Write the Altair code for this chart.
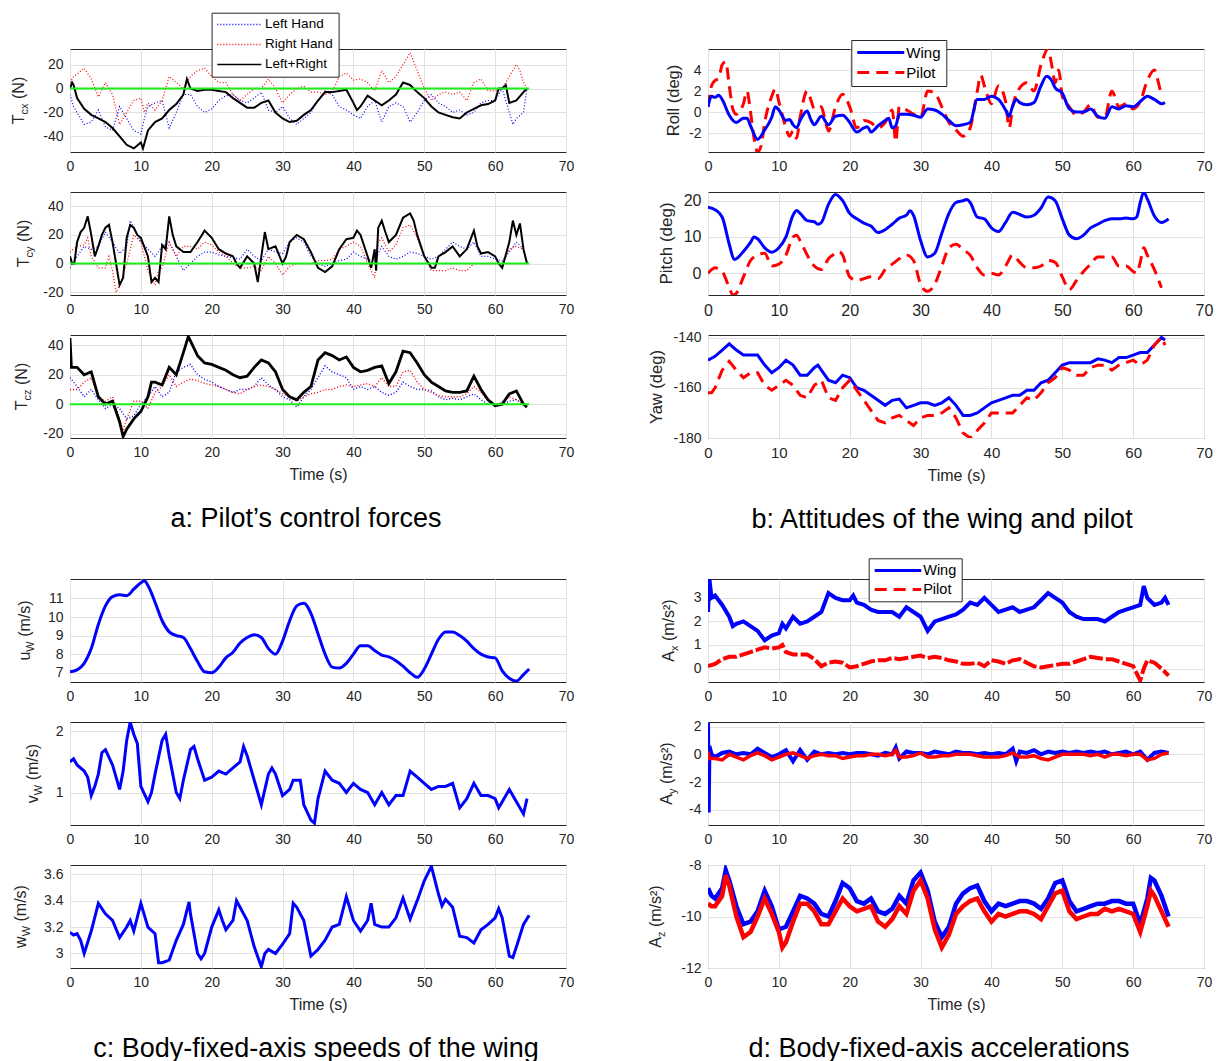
import altair as alt
import pandas as pd

FONT = "Liberation Sans"
AXC = "#262626"
GRID = "#e1e1e1"
BLUE = "#0000ff"
RED = "#ff0000"
BLACK = "#000000"
GREEN = "#1aef1a"

PW, PH = 496, 103
X_TICKS = [0, 10, 20, 30, 40, 50, 60, 70]

# ---------------- data (time s, value) ----------------
A1_LEFT = [(0,-5),(0.5,-15),(1,-20),(2,-30),(3,-28),(4,-18),(5,-32),(6,-35),(7,-15),(8,-25),(9,-35),(10,-38),(10.5,-25),(11,-15),(12,-12),(13,-10),(14,-33),(15,-20),(16,-5),(17,-5),(18,-15),(19,-20),(20,-17),(21,-10),(22,-6),(23,-5),(24,-10),(25,-12),(26,-8),(27,-3),(28,-18),(29,-20),(30,-15),(31,-25),(32,-30),(33,-25),(34,-20),(35,-10),(36,-2),(37,-5),(38,-15),(39,-18),(40,-22),(41,-25),(42,-15),(43,-10),(44,-28),(45,-15),(46,-12),(47,-15),(48,-28),(49,-20),(50,-10),(51,-5),(52,-12),(53,-15),(54,-20),(55,-18),(56,-22),(57,-20),(58,-12),(59,-10),(60,-10),(61,0),(62,-20),(62.5,-30),(63,-25),(64,-20),(64.5,0)]
A1_RIGHT = [(0,5),(0.5,10),(1,12),(2,17),(3,8),(4,-7),(5,5),(6,-5),(7,-30),(8,-20),(9,-10),(10,-8),(10.5,-20),(11,-12),(12,-18),(13,-10),(14,10),(15,5),(16,0),(17,10),(18,15),(19,17),(20,10),(21,5),(22,5),(23,-5),(24,-10),(25,-5),(26,0),(27,0),(28,8),(29,0),(30,-12),(31,-5),(32,0),(33,2),(34,-3),(35,-3),(36,-5),(37,-3),(38,10),(39,13),(40,7),(41,8),(42,5),(43,-2),(44,15),(45,5),(46,10),(47,20),(48,30),(49,15),(50,0),(51,-10),(52,-5),(53,-3),(54,-5),(55,-3),(56,-10),(57,5),(58,8),(59,-2),(60,-2),(61,0),(62,10),(63,20),(63.5,15),(64,5),(64.5,0)]
A1_SUM = [(0,0),(0.3,5),(0.5,3),(1,-8),(2,-17),(3,-22),(4,-25),(5,-28),(6,-33),(7,-40),(8,-47),(9,-50),(10,-45),(10.3,-50),(11,-35),(12,-28),(13,-25),(14,-18),(15,-13),(16,-5),(16.5,8),(17,0),(18,-2),(19,-1),(20,-1),(21,-2),(22,-3),(23,-8),(24,-12),(25,-16),(26,-16),(27,-12),(28,-10),(29,-20),(30,-25),(31,-28),(32,-27),(33,-22),(34,-18),(35,-10),(36,-3),(37,-3),(38,-2),(39,-1),(40,-12),(40.5,-18),(41,-15),(42,-6),(43,-10),(44,-14),(45,-10),(46,-5),(47,5),(48,3),(49,-3),(50,-8),(51,-15),(52,-20),(53,-22),(54,-24),(55,-25),(56,-20),(57,-17),(58,-14),(59,-13),(60,-10),(60.5,0),(61,0),(61.5,3),(62,-12),(63,-10),(64,-3),(64.5,0)]

A2_LEFT = [(0,-3),(1,5),(2,12),(3,10),(4,12),(5,22),(6,15),(7,7),(8,12),(8.5,30),(9,25),(10,15),(11,10),(12,5),(13,12),(14,15),(15,5),(16,-5),(17,0),(18,5),(19,8),(20,8),(21,6),(22,5),(23,4),(24,3),(25,10),(26,5),(27,2),(28,10),(29,8),(30,7),(31,15),(32,18),(33,15),(34,5),(35,0),(36,-2),(37,0),(38,2),(39,3),(40,8),(41,5),(42,3),(43,2),(44,12),(45,5),(46,3),(47,5),(48,8),(49,7),(50,5),(51,3),(52,5),(53,10),(54,15),(55,12),(56,10),(57,15),(58,5),(59,5),(60,3),(61,2),(62,8),(63,15),(64,10),(64.5,0)]
A2_RIGHT = [(0,8),(1,12),(2,13),(2.5,18),(3,5),(4,-3),(5,-3),(5.5,5),(6,-5),(6.5,-20),(7,-15),(8,0),(9,20),(10,15),(11,-5),(12,-15),(12.5,-5),(13,-3),(14,15),(15,5),(16,12),(17,12),(18,10),(19,15),(20,13),(21,8),(22,5),(23,0),(24,-3),(25,-3),(26,-2),(27,-5),(28,5),(29,0),(30,-8),(31,-2),(32,0),(33,0),(34,0),(35,2),(36,2),(37,3),(38,10),(39,12),(40,15),(41,12),(42,0),(43,-10),(43.5,15),(44,18),(45,8),(46,13),(47,25),(48,27),(49,18),(50,5),(51,-5),(52,-5),(53,-5),(54,-3),(55,-5),(56,-5),(57,0),(58,0),(59,0),(60,0),(61,0),(62,10),(63,12),(64,10),(64.5,0)]
A2_SUM = [(0,5),(0.3,0),(0.6,0),(1,15),(1.5,22),(2,25),(2.5,33),(3,20),(3.5,5),(4,12),(4.5,20),(5,25),(5.5,27),(6,15),(6.5,0),(7,-15),(7.5,-10),(8,18),(8.5,27),(9,25),(9.5,20),(10,18),(11,5),(11.5,-13),(12,-10),(12.5,-13),(13,13),(13.5,10),(14,33),(14.5,20),(15,12),(16,8),(17,8),(18,15),(19,23),(20,18),(21,10),(22,7),(23,5),(23.5,0),(24,-3),(25,5),(26,0),(26.5,-13),(27,5),(27.5,22),(28,10),(29,12),(30,0),(30.5,5),(31,15),(32,20),(33,17),(34,8),(35,-3),(36,-6),(37,-2),(38,10),(39,17),(40,18),(40.5,23),(41,20),(42,5),(42.5,-3),(43,10),(43.2,-5),(43.5,25),(44,30),(44.5,22),(45,15),(46,20),(47,32),(48,35),(48.5,30),(49,20),(50,5),(51,-3),(51.5,-3),(52,5),(53,8),(54,12),(55,5),(56,10),(57,23),(57.5,12),(58,7),(59,8),(60,5),(60.5,0),(61,-3),(62,15),(62.5,30),(63,20),(63.5,28),(64,10),(64.5,0)]

A3_LEFT = [(0,18),(1,12),(2,5),(3,10),(4,3),(5,-3),(6,0),(7,-3),(8,-10),(9,-8),(10,0),(11,5),(12,12),(13,5),(14,8),(15,22),(16,25),(17,27),(18,20),(19,17),(20,15),(21,12),(22,10),(23,8),(24,10),(25,10),(26,12),(27,18),(28,13),(29,10),(30,5),(31,3),(32,-2),(33,5),(34,10),(35,18),(36,26),(37,22),(38,20),(39,18),(40,10),(41,12),(42,10),(43,12),(44,8),(45,6),(46,8),(47,15),(48,12),(49,10),(50,10),(51,9),(52,5),(53,3),(54,4),(55,3),(56,5),(57,7),(58,3),(59,0),(60,0),(61,0),(62,2),(63,3),(64,0),(64.5,0)]
A3_RIGHT = [(0,10),(1,10),(2,15),(3,18),(4,5),(5,2),(6,5),(7,-10),(7.5,-18),(8,-10),(9,2),(10,2),(11,-3),(12,8),(13,12),(14,20),(15,12),(16,15),(17,17),(18,16),(19,14),(20,13),(21,12),(22,10),(23,8),(24,7),(25,10),(26,12),(27,13),(28,12),(29,10),(30,7),(31,5),(32,2),(33,5),(34,7),(35,8),(36,10),(37,10),(38,12),(39,13),(40,12),(41,13),(42,14),(43,12),(44,18),(45,12),(46,12),(47,22),(48,23),(49,15),(50,10),(51,8),(52,6),(53,5),(54,5),(55,5),(56,7),(57,12),(58,8),(59,2),(60,0),(61,1),(62,5),(63,3),(64,0),(64.5,-1)]
A3_SUM = [(0,45),(0.2,25),(1,25),(2,20),(3,22),(4,5),(5,0),(6,2),(7,-12),(7.5,-22),(8,-17),(9,-10),(10,-5),(11,5),(11.5,15),(12,15),(13,13),(14,25),(15,20),(16,35),(16.7,46),(17,43),(18,33),(19,28),(20,27),(21,25),(22,23),(23,20),(24,18),(25,19),(26,25),(27,30),(28,28),(29,22),(30,10),(31,5),(32,3),(33,8),(34,12),(35,30),(36,35),(37,33),(38,30),(39,32),(40,25),(41,22),(42,23),(43,25),(44,26),(45,14),(46,22),(47,36),(48,35),(49,28),(50,20),(51,15),(52,12),(53,9),(54,8),(55,8),(56,9),(57,19),(58,10),(59,3),(60,-1),(61,0),(62,7),(63,9),(64,0),(64.5,-2)]

ZERO_LINE = [(0, 0), (64.8, 0)]

B1_WING = [(0,0.5),(0.5,1.5),(1,1.4),(1.5,1.6),(2,1.2),(3,-0.3),(4,-1.0),(5,-0.6),(5.5,-0.6),(6,-1.3),(7,-2.6),(8,-1.7),(9,-0.5),(9.5,0.5),(10,0.2),(11,-0.8),(11.5,-0.7),(12,-1.2),(12.5,-1.5),(13,-0.8),(14,0.1),(14.5,-0.7),(15,-1.2),(16,-0.4),(17,-1.2),(18,-0.4),(19,-0.3),(20,-1.0),(21,-1.9),(22,-1.5),(22.5,-1.4),(23,-1.9),(24,-1.3),(25,-0.8),(25.5,-0.6),(26,-1.5),(26.5,-1.3),(27,-0.2),(28,-0.2),(29,-0.3),(30,-0.5),(31,0.3),(32,0.2),(33,-0.2),(34,-0.8),(35,-1.3),(36,-1.2),(37,-1.0),(38,1.2),(39,1.2),(40,1.5),(41,1.2),(42,0.2),(42.5,-0.4),(43,0.6),(43.5,1.2),(44,0.9),(45,0.7),(46,0.9),(47,2.5),(47.8,3.4),(48.5,3.0),(49,2.3),(50,1.8),(51,0.3),(52,0.0),(53,0.0),(54,0.3),(55,-0.4),(56,-0.6),(57,0.5),(58,0.3),(59,0.6),(60,0.5),(61,1.0),(62,1.5),(63,1.2),(64,0.8),(64.5,0.9)]
B1_PILOT = [(0,0.5),(0.5,2.5),(1,3.0),(1.5,3.2),(2,4.5),(2.5,4.8),(3,2.5),(3.5,0.3),(4,-0.2),(5,0.8),(5.5,2.0),(6,0.0),(6.5,-2.5),(7,-3.8),(7.5,-3.2),(8,-1.0),(9,1.5),(9.5,2.2),(10,1.0),(11,-1.5),(11.5,-2.3),(12,-1.8),(12.5,-2.5),(13,-0.5),(14,2.0),(14.5,1.2),(15,0.3),(16,0.5),(16.5,-0.7),(17,-1.8),(18,0.5),(19,1.7),(20,0.5),(21,-1.5),(22,-0.8),(23,-1.0),(24,-1.5),(25,-1.0),(26,0.2),(26.5,-2.8),(27,0.5),(28,0.2),(29,-0.2),(30,-0.5),(31,2.0),(32,1.8),(33,0.5),(34,-1.0),(35,-1.7),(36,-2.3),(37,-1.5),(38,2.0),(38.5,3.5),(39,2.5),(40,0.8),(41,2.5),(42,1.0),(42.5,-1.5),(43,0.5),(44,2.3),(45,2.8),(46,2.0),(47,4.5),(48,6.0),(48.5,4.5),(49,2.8),(49.5,4.0),(50,1.5),(51,0.5),(52,-0.3),(53,0.0),(54,0.7),(55,-0.5),(56,-0.5),(57,2.0),(58,0.5),(59,0.8),(60,0.3),(61,1.0),(62,3.0),(63,4.0),(63.5,3.0),(64,1.5)]

B2_WING = [(0,18.2),(1,17.5),(2,15.5),(3,8),(3.7,3.8),(4,4),(5,6),(6,8.5),(6.5,10),(7,9.5),(8,7),(9,5.8),(10,7),(11,10),(12,16),(12.5,17.3),(13,16.5),(14,14.5),(15,14.2),(15.5,13.5),(16,14),(17,19),(18,21.7),(19,20),(20,16.5),(21,15),(22,13.8),(23,13),(24,11.2),(25,12),(26,13.5),(27,15.2),(28,16),(28.5,17.2),(29,16),(30,9),(31,4.5),(32,5.5),(33,11),(34,16.5),(35,19.5),(36,20),(36.5,20.3),(37,19.5),(38,15.5),(39,15),(40,12.5),(41,11.5),(42,14),(43,16.8),(44,16.2),(45,15.5),(46,16),(47,18),(48,21),(49,20),(50,15),(51,10.5),(52,9.5),(53,10.5),(54,12.5),(55,13.5),(56,14.5),(57,15),(58,15),(59,15.2),(60,15),(60.5,15.5),(61,19.5),(61.5,22.3),(62,20.5),(63,15.8),(64,14),(65,15)]
B2_PILOT = [(0,0),(0.5,1),(1,1.5),(2,0.5),(3,-4),(3.5,-6),(4,-5.5),(5,-1),(6,3.5),(7,5),(8,5.5),(9,2),(10,2.5),(11,5),(12,10),(12.5,10.5),(13,9),(14,5),(15,2),(16,1),(17,4),(18,5.5),(18.5,6),(19,5),(20,-1),(21,-2),(22,-1.5),(23,-1),(24,-1.5),(25,1),(26,2.5),(27,4),(28,5),(29,3.5),(30,-3),(31,-5),(32,-3),(33,2),(34,7),(35,8),(36,6.5),(37,5),(38,1.5),(39,-0.5),(40,0),(41,-0.5),(42,2),(43,5),(44,3),(45,1.5),(46,1.5),(47,2),(48,3.5),(49,3),(50,-1),(51,-4.5),(52,-2),(53,0.5),(54,2.5),(55,4.5),(56,4.5),(57,4.5),(58,2),(59,2),(60,0.5),(60.5,0),(61,3),(61.5,7),(62,5),(63,1),(64,-4)]

B3_WING = [(0,-149),(1,-147.5),(2,-145),(3,-142.5),(4,-145),(5,-147),(6,-147),(7,-147),(8,-151),(9,-154),(10,-152),(11,-149),(12,-151),(13,-155),(14,-155),(15,-152),(15.5,-151),(16,-153),(17,-157),(18,-158),(19,-155),(20,-156),(21,-160),(22,-161),(23,-163),(24,-165),(25,-167),(26,-165),(27,-164.5),(28,-168),(29,-167),(30,-166),(31,-166),(32,-167),(33,-166),(34,-164),(35,-167),(36,-171),(37,-171),(38,-170),(39,-168),(40,-166),(41,-165),(42,-164),(43,-163),(44,-163),(45,-161),(46,-161),(47,-158),(48,-157),(49,-154),(50,-151),(51,-150),(52,-150),(53,-150),(54,-150),(55,-148.5),(56,-149),(57,-150),(58,-148),(59,-148),(60,-147),(61,-146),(62,-146),(63,-143),(64,-140),(64.5,-141)]
B3_PILOT = [(0,-162),(0.5,-162),(1,-160),(2,-153),(3,-149.5),(4,-153),(5,-156),(6,-154),(7,-154),(8,-159),(9,-161),(10,-159),(11,-157),(12,-159),(13,-163),(14,-164),(15,-159),(16,-157),(17,-164),(18,-165),(19,-160),(20,-157),(21,-161),(22,-165),(23,-169),(24,-173),(25,-174),(26,-172),(27,-171),(28,-173),(29,-175),(30,-172),(31,-171),(32,-171),(33,-170),(34,-168),(35,-172),(36,-178),(37,-180),(38,-177),(39,-174),(40,-170),(41,-170),(42,-170),(43,-170),(44,-167),(45,-164),(46,-165),(47,-162),(48,-158),(49,-156),(50,-152),(51,-153),(52,-155),(53,-155),(54,-152),(55,-151),(56,-151),(57,-153),(58,-151),(59,-150),(60,-149),(61,-151),(62,-149),(63,-143),(64,-140),(64.5,-143)]

C1_U = [(0,7.05),(1,7.15),(2,7.5),(3,8.3),(4,9.6),(5,10.6),(6,11.1),(7,11.2),(8,11.15),(9,11.5),(10,11.85),(10.5,11.95),(11,11.7),(12,10.8),(13,9.8),(14,9.2),(15,9.0),(16,8.9),(17,8.3),(18,7.6),(19,7.05),(20,7.0),(21,7.3),(22,7.8),(23,8.1),(24,8.6),(25,8.9),(26,9.05),(27,8.9),(28,8.3),(29,8.0),(30,8.7),(31,9.8),(32,10.6),(33,10.75),(34,10.2),(35,9.1),(36,8.0),(37,7.3),(38,7.25),(39,7.5),(40,8.0),(41,8.45),(42,8.45),(43,8.2),(44,7.95),(45,7.85),(46,7.65),(47,7.35),(48,7.0),(49,6.75),(50,7.2),(51,8.0),(52,8.8),(53,9.2),(54,9.2),(55,9.0),(56,8.7),(57,8.3),(58,8.0),(59,7.85),(60,7.8),(61,7.1),(62,6.7),(63,6.55),(64,6.9),(64.8,7.2)]
C2_V = [(0,1.5),(0.5,1.55),(1,1.45),(2,1.35),(2.5,1.25),(3,0.95),(3.5,1.1),(4,1.3),(4.5,1.65),(5,1.7),(6,1.45),(7,1.05),(7.5,1.35),(8,1.85),(8.5,2.15),(9,1.95),(9.5,1.8),(10,1.1),(11,0.85),(11.5,1.0),(12,1.3),(13,1.85),(13.5,1.95),(14,1.6),(15,1.0),(15.5,0.9),(16,1.2),(17,1.7),(17.5,1.75),(18,1.55),(19,1.2),(20,1.25),(21,1.35),(22,1.3),(23,1.4),(24,1.5),(24.5,1.75),(25,1.6),(26,1.2),(27,0.8),(28,1.3),(28.5,1.4),(29,1.3),(30,0.95),(31,1.05),(31.5,1.2),(32.5,1.2),(33,0.8),(34,0.55),(34.5,0.5),(35,0.9),(36,1.35),(37,1.2),(38,1.15),(39,1.0),(40,1.15),(41,1.05),(42,1.0),(43,0.8),(44,1.0),(45,0.8),(46,0.95),(47,0.95),(48,1.35),(49,1.25),(50,1.15),(51,1.05),(52,1.1),(53,1.1),(54,1.15),(55,0.75),(56,0.9),(57,1.15),(58,0.95),(59,0.95),(60,0.9),(60.5,0.75),(61,0.85),(62,1.05),(63,0.85),(64,0.65),(64.5,0.9)]
C3_W = [(0,3.16),(0.5,3.14),(1,3.15),(1.5,3.1),(2,3.0),(3,3.17),(4,3.38),(5,3.3),(6,3.25),(7,3.12),(8,3.2),(8.5,3.25),(9,3.17),(10,3.38),(11,3.2),(12,3.15),(12.5,2.93),(13,2.93),(14,2.95),(15,3.1),(16,3.22),(16.8,3.39),(17,3.3),(18,3.0),(18.5,2.96),(19,3.0),(20,3.2),(21,3.33),(21.5,3.25),(22,3.18),(23,3.25),(23.5,3.4),(24,3.35),(25,3.25),(26,3.05),(27,2.9),(27.5,3.0),(28,3.03),(29,3.0),(30,3.07),(31,3.15),(31.5,3.38),(32,3.35),(33,3.25),(34,2.98),(35,3.03),(36,3.1),(37,3.2),(38,3.22),(39,3.43),(40,3.25),(41,3.17),(42,3.25),(42.5,3.38),(43,3.22),(44,3.2),(45,3.2),(46,3.27),(47,3.42),(48,3.26),(49,3.4),(50,3.55),(51,3.66),(52,3.45),(52.5,3.36),(53,3.41),(54,3.35),(55,3.13),(56,3.12),(57,3.08),(58,3.18),(59,3.22),(60,3.27),(60.5,3.34),(61,3.27),(62,2.98),(62.5,2.97),(63,3.05),(64,3.22),(64.8,3.29)]

D1_WING = [(0,2.4),(0.2,3.8),(0.5,3.0),(1,3.1),(2,2.7),(3,2.2),(3.5,1.8),(4,1.9),(5,2.0),(6,1.8),(7,1.6),(8,1.2),(9,1.4),(10,1.5),(10.5,1.9),(11,1.7),(12,2.2),(13,1.9),(14,2.0),(15,2.2),(16,2.4),(17,3.2),(18,3.0),(19,2.9),(20,2.9),(20.5,3.1),(21,2.8),(22,2.7),(23,2.5),(24,2.4),(25,2.4),(26,2.4),(27,2.2),(28,2.6),(29,2.4),(30,2.2),(31,1.6),(32,2.0),(33,2.1),(34,2.2),(35,2.3),(36,2.5),(37,2.8),(38,2.7),(39,3.0),(40,2.7),(41,2.4),(42,2.5),(43,2.6),(44,2.4),(45,2.5),(46,2.6),(47,2.9),(48,3.2),(49,3.0),(50,2.8),(51,2.4),(52,2.2),(53,2.1),(54,2.1),(55,2.1),(56,2.0),(57,2.2),(58,2.4),(59,2.5),(60,2.6),(61,2.7),(61.5,3.5),(62,3.0),(63,2.7),(64,2.8),(64.5,3.0),(65,2.7)]
D1_PILOT = [(0,0.1),(1,0.2),(2,0.4),(3,0.5),(4,0.5),(5,0.6),(6,0.7),(7,0.8),(8,0.9),(9,0.85),(10,0.9),(10.5,1.0),(11,0.7),(12,0.6),(13,0.6),(14,0.6),(15,0.4),(16,0.1),(17,0.25),(18,0.3),(19,0.25),(20,0.05),(21,0.1),(22,0.2),(23,0.3),(24,0.35),(25,0.35),(26,0.45),(27,0.4),(28,0.45),(29,0.5),(30,0.55),(31,0.45),(32,0.5),(33,0.45),(34,0.35),(35,0.3),(36,0.2),(37,0.2),(38,0.25),(39,0.1),(40,0.35),(41,0.3),(42,0.2),(43,0.35),(44,0.4),(45,0.25),(46,0.1),(47,0.05),(48,0.1),(49,0.15),(50,0.2),(51,0.2),(52,0.3),(53,0.4),(54,0.5),(55,0.45),(56,0.4),(57,0.4),(58,0.3),(59,0.2),(60,0.1),(60.5,-0.2),(61,-0.5),(61.5,0.0),(62,0.35),(63,0.25),(64,0.0),(65,-0.3)]

D2_WING = [(0,2.3),(0.1,-4.2),(0.2,0.6),(0.5,0.0),(1,-0.2),(2,0.1),(3,0.2),(4,0.0),(5,0.1),(6,0.0),(7,0.4),(8,0.1),(9,-0.2),(10,0.0),(11,0.3),(12,-0.5),(13,0.3),(14,-0.4),(15,0.2),(16,0.0),(17,0.1),(18,0.0),(19,0.1),(20,0.0),(21,0.1),(22,0.1),(23,0.0),(24,-0.1),(25,0.1),(26,0.0),(26.5,0.5),(27,-0.3),(28,0.2),(29,0.1),(30,0.1),(31,0.0),(32,0.2),(33,0.1),(34,0.0),(35,0.2),(36,0.1),(37,0.1),(38,0.0),(39,0.1),(40,0.0),(41,0.1),(42,0.0),(43,0.4),(43.5,-0.5),(44,0.2),(45,0.1),(46,0.3),(47,0.0),(48,0.2),(49,0.1),(50,0.2),(51,0.1),(52,0.2),(53,0.1),(54,0.2),(55,0.1),(56,0.2),(57,0.0),(58,0.1),(59,0.2),(60,0.0),(61,0.2),(62,-0.4),(63,0.1),(64,0.2),(65,0.1)]
D2_PILOT = [(0,0.2),(0.2,-0.3),(1,-0.3),(2,-0.4),(3,0.0),(4,-0.2),(5,-0.4),(6,-0.1),(7,0.1),(8,-0.1),(9,-0.4),(10,-0.2),(11,0.0),(12,0.1),(13,-0.1),(14,-0.3),(15,-0.1),(16,0.0),(17,-0.1),(18,-0.1),(19,-0.3),(20,-0.2),(21,-0.1),(22,-0.1),(23,0.0),(24,0.0),(25,-0.1),(26,0.0),(26.5,0.3),(27,-0.2),(28,-0.2),(29,-0.1),(30,0.1),(31,-0.2),(32,-0.2),(33,-0.1),(34,-0.1),(35,0.0),(36,0.0),(37,0.0),(38,-0.1),(39,-0.2),(40,-0.2),(41,-0.2),(42,-0.1),(43,0.1),(44,-0.2),(45,-0.2),(46,-0.1),(47,-0.3),(48,-0.4),(49,-0.2),(50,0.0),(51,0.0),(52,0.0),(53,0.0),(54,-0.1),(55,0.0),(56,-0.2),(57,0.0),(58,0.0),(59,-0.1),(60,0.0),(61,0.0),(62,-0.4),(63,-0.3),(64,0.0),(65,0.1)]

D3_WING = [(0,-8.9),(0.5,-9.2),(1,-9.3),(2,-8.9),(2.5,-8.2),(3,-8.6),(4,-9.6),(5,-10.3),(6,-10.2),(7,-9.8),(8,-9.0),(9,-9.6),(10,-10.5),(11,-10.4),(12,-9.8),(13,-9.2),(14,-9.3),(15,-9.5),(16,-9.9),(17,-10.0),(18,-9.4),(19,-8.7),(20,-8.9),(21,-9.4),(22,-9.5),(23,-9.3),(24,-9.8),(25,-9.9),(26,-9.7),(27,-9.2),(28,-9.5),(29,-8.6),(30,-8.3),(31,-9.0),(32,-10.2),(33,-10.8),(34,-10.4),(35,-9.5),(36,-9.1),(37,-8.9),(38,-8.8),(39,-9.4),(40,-9.8),(41,-9.5),(42,-9.6),(43,-9.5),(44,-9.4),(45,-9.4),(46,-9.5),(47,-9.7),(48,-9.3),(49,-8.7),(50,-8.6),(51,-9.4),(52,-9.8),(53,-9.7),(54,-9.6),(55,-9.5),(56,-9.5),(57,-9.4),(58,-9.4),(59,-9.5),(60,-9.5),(61,-10.3),(62,-9.3),(62.5,-8.5),(63,-8.6),(64,-9.2),(65,-10.0)]
D3_PILOT = [(0,-9.5),(0.5,-9.6),(1,-9.6),(2,-9.2),(2.5,-8.4),(3,-8.8),(4,-10.0),(5,-10.8),(6,-10.6),(7,-10.0),(8,-9.3),(9,-9.9),(10,-10.6),(10.5,-11.2),(11,-11.0),(12,-10.2),(13,-9.5),(14,-9.5),(15,-9.8),(16,-10.3),(17,-10.3),(18,-9.8),(19,-9.3),(20,-9.6),(21,-9.8),(22,-9.7),(23,-9.6),(24,-10.2),(25,-10.4),(26,-10.1),(27,-9.6),(28,-9.9),(29,-9.0),(30,-8.6),(31,-9.3),(32,-10.5),(33,-11.2),(34,-10.7),(35,-9.9),(36,-9.6),(37,-9.4),(38,-9.3),(39,-9.8),(40,-10.2),(41,-9.9),(42,-10.0),(43,-9.9),(44,-9.8),(45,-9.8),(46,-9.9),(47,-10.1),(48,-9.6),(49,-9.1),(50,-9.0),(51,-9.8),(52,-10.1),(53,-10.0),(54,-9.9),(55,-9.9),(56,-9.7),(57,-9.8),(58,-9.7),(59,-9.8),(60,-9.9),(61,-10.6),(62,-9.6),(62.5,-9.0),(63,-9.2),(64,-9.8),(65,-10.4)]

A_NAMES = ["Left Hand", "Right Hand", "Left+Right"]
WP_NAMES = ["Wing", "Pilot"]
CAPTIONS = ["a: Pilot\u2019s control forces", "b: Attitudes of the wing and pilot",
            "c: Body-fixed-axis speeds of the wing", "d: Body-fixed-axis accelerations"]

# ---------------- helpers ----------------
ONE = pd.DataFrame({"k": [0]})
CHAR_W = {'T': .611, 'c': .5, 'x': .5, 'y': .5, 'z': .5, ' ': .278, '(': .333, ')': .333,
          'N': .722, 'u': .556, 'W': .944, 'm': .833, '/': .278, 's': .5, '\u00b2': .333,
          'A': .667, 'v': .5, 'w': .722, 'R': .722, 'o': .556, 'l': .222, 'd': .556,
          'e': .556, 'g': .556, 'P': .667, 'i': .222, 't': .278, 'h': .556, 'a': .556, 'Y': .667}


def twidth(s, size):
    return sum(CHAR_W.get(ch, 0.55) for ch in s) * size


def frame(pairs):
    return pd.DataFrame(pairs, columns=["t", "v"])


def encodings(ydom, yvals, lab, xlab, xtitle):
    x = alt.X("t:Q", scale=alt.Scale(domain=[0, 70], nice=False, zero=False),
              axis=alt.Axis(values=X_TICKS, labelExpr="'' + datum.value", labelFont=FONT,
                            labelFontSize=xlab, labelColor=AXC, labelPadding=7, ticks=False,
                            domain=False, grid=True, gridColor=GRID, labelFlush=False,
                            title=xtitle, titleFont=FONT, titleFontSize=16,
                            titleFontWeight="normal", titleColor=AXC, titlePadding=7))
    y = alt.Y("v:Q", scale=alt.Scale(domain=ydom, nice=False, zero=False),
              axis=alt.Axis(values=yvals, labelExpr="'' + datum.value", labelFont=FONT,
                            labelFontSize=lab, labelColor=AXC, labelPadding=7, ticks=False,
                            domain=False, grid=True, gridColor=GRID, labelFlush=False,
                            title=None))
    return x, y


def ytitle_layers(segs, xc):
    total = sum(twidth(s, sz) for s, sz, _ in segs)
    ypos = PH / 2 + total / 2
    base = segs[0][1]
    out = []
    for s, sz, shift in segs:
        body = s.lstrip(" ")
        ypos -= twidth(s[:len(s) - len(body)], sz)
        out.append(alt.Chart(ONE).mark_text(text=body, angle=270, align="left",
                                            baseline="alphabetic", font=FONT, fontSize=sz,
                                            color=AXC)
                   .encode(x=alt.value(xc + 0.255 * base + shift), y=alt.value(ypos)))
        ypos -= twidth(body, sz)
    return out


def legend_layer(x, y, ydom, names, colors, dashes, fs, half, so, lo, lx, ly, rp, sw):
    d = pd.DataFrame({"t": [0.0] * len(names), "v": [ydom[0]] * len(names), "s": names})
    leg = alt.Legend(title=None, orient="none", legendX=lx, legendY=ly, direction="vertical",
                     fillColor="white", strokeColor=AXC, padding=5, cornerRadius=0,
                     labelFont=FONT, labelFontSize=fs, labelColor="black",
                     labelOffset=lo, symbolOffset=so, symbolSize=100,
                     symbolType="M-%g,0H%g" % (half, half), symbolStrokeWidth=sw,
                     rowPadding=rp)
    return alt.Chart(d).mark_line(strokeWidth=sw).encode(
        x=x, y=y,
        color=alt.Color("s:N", scale=alt.Scale(domain=names, range=colors), legend=leg),
        strokeDash=alt.StrokeDash("s:N", scale=alt.Scale(domain=names, range=dashes), legend=leg),
    )


def panel(series, ydom, yvals, title_segs, title_x, lab=14, xlab=14, xtitle=None,
          legend=None, caption=None, cap_dx=0):
    x, y = encodings(ydom, yvals, lab, xlab, xtitle)
    layers = []
    if legend is not None:
        layers.append(legend_layer(x, y, ydom, **legend))
    for pairs, color, width, dash, interp in series:
        mk = dict(color=color, strokeWidth=width, clip=True, interpolate=interp)
        if dash:
            mk["strokeDash"] = dash
        layers.append(alt.Chart(frame(pairs)).mark_line(**mk).encode(x=x, y=y))
    layers += ytitle_layers(title_segs, title_x)
    ch = alt.layer(*layers).properties(width=PW, height=PH)
    if caption:
        ch = ch.properties(title=alt.TitleParams(
            text=caption, orient="bottom", anchor="middle", frame="group", offset=45,
            baseline="alphabetic", fontSize=27, font=FONT, fontWeight="normal",
            color="black", dx=cap_dx))
    return ch


def spacer(h):
    return alt.Chart(ONE).mark_point(opacity=0).encode(
        x=alt.X("k:Q", axis=None), y=alt.Y("k:Q", axis=None)
    ).properties(width=PW, height=h, view=alt.ViewBackground(stroke="transparent"))


DOT = [1, 2]
DASH = [12, 7]

# ---------------- group a ----------------
leg_a = dict(names=A_NAMES, colors=[BLUE, RED, BLACK], dashes=[DOT, DOT, [1, 0]], fs=13.5,
             half=4.4, so=16, lo=19, lx=141.6, ly=-36.3, rp=5, sw=1.5)
a1 = panel([(A1_LEFT, BLUE, 1.2, DOT, "linear"), (A1_RIGHT, RED, 1.2, DOT, "linear"),
            (A1_SUM, BLACK, 2, None, "linear"), (ZERO_LINE, GREEN, 2, None, "linear")],
           [-53, 33], [-40, -20, 0, 20],
           [("T", 16, 0), ("cx", 11, 4), (" (N)", 16, 0)], -50, legend=leg_a)
a2 = panel([(A2_LEFT, BLUE, 1.2, DOT, "linear"), (A2_RIGHT, RED, 1.2, DOT, "linear"),
            (A2_SUM, BLACK, 2, None, "linear"), (ZERO_LINE, GREEN, 2, None, "linear")],
           [-22, 50], [-20, 0, 20, 40],
           [("T", 16, 0), ("cy", 11, 4), (" (N)", 16, 0)], -45)
a3 = panel([(A3_LEFT, BLUE, 1.4, DOT, "linear"), (A3_RIGHT, RED, 1.4, DOT, "linear"),
            (A3_SUM, BLACK, 2.8, None, "linear"), (ZERO_LINE, GREEN, 2, None, "linear")],
           [-23, 47], [-20, 0, 20, 40],
           [("T", 16, 0), ("cz", 11, 4), (" (N)", 16, 0)], -47,
           xtitle="Time (s)", caption=CAPTIONS[0], cap_dx=-12)

# ---------------- group b ----------------
leg_b = dict(names=WP_NAMES, colors=[BLUE, RED], dashes=[[1, 0], DASH], fs=15,
             half=4.7, so=17, lo=18, lx=143.3, ly=-9, rp=4, sw=3)
b1 = panel([(B1_PILOT, RED, 3, DASH, "monotone"), (B1_WING, BLUE, 3, None, "monotone")],
           [-3.8, 6], [-2, 0, 2, 4], [("Roll (deg)", 16.5, 0)], -33, xlab=14.5, legend=leg_b)
b2 = panel([(B2_WING, BLUE, 3, None, "monotone"), (B2_PILOT, RED, 3, DASH, "monotone")],
           [-6, 22.4], [0, 10, 20], [("Pitch (deg)", 17, 0)], -40, lab=16, xlab=16)
b3 = panel([(B3_WING, BLUE, 3, None, "linear"), (B3_PILOT, RED, 3, DASH, "linear")],
           [-180, -139], [-180, -160, -140], [("Yaw (deg)", 16.5, 0)], -50, xlab=15,
           xtitle="Time (s)", caption=CAPTIONS[1], cap_dx=-14)

# ---------------- group c ----------------
c1 = panel([(C1_U, BLUE, 3, None, "monotone")], [6.5, 12.05], [7, 8, 9, 10, 11],
           [("u", 16, 0), ("W", 11, 4), (" (m/s)", 16, 0)], -44)
c2 = panel([(C2_V, BLUE, 3, None, "linear")], [0.47, 2.15], [1, 2],
           [("v", 16, 0), ("W", 11, 4), (" (m/s)", 16, 0)], -36)
c3 = panel([(C3_W, BLUE, 3, None, "linear")], [2.89, 3.67], [3, 3.2, 3.4, 3.6],
           [("w", 16, 0), ("W", 11, 4), (" (m/s)", 16, 0)], -48,
           xtitle="Time (s)", caption=CAPTIONS[2], cap_dx=-2)

# ---------------- group d ----------------
leg_d = dict(names=WP_NAMES, colors=[BLUE, RED], dashes=[[1, 0], DASH], fs=14.5,
             half=4.65, so=17, lo=18, lx=160.7, ly=-20.7, rp=4, sw=3)
d1 = panel([(D1_WING, BLUE, 4, None, "linear"), (D1_PILOT, RED, 4, [14, 3], "linear")],
           [-0.57, 3.8], [0, 1, 2, 3],
           [("A", 16, 0), ("x", 11, 4), (" (m/s\u00b2)", 16, 0)], -38, legend=leg_d)
d2 = panel([(D2_WING, BLUE, 4, None, "linear"), (D2_PILOT, RED, 3.5, None, "linear")],
           [-5.1, 2.33], [-4, -2, 0, 2],
           [("A", 16, 0), ("y", 11, 4), (" (m/s\u00b2)", 16, 0)], -40)
d3 = panel([(D3_WING, BLUE, 4.5, None, "linear"), (D3_PILOT, RED, 4.5, None, "linear")],
           [-12, -8], [-12, -10, -8],
           [("A", 16, 0), ("z", 11, 4), (" (m/s\u00b2)", 16, 0)], -51,
           xtitle="Time (s)", caption=CAPTIONS[3], cap_dx=-17)

chart = alt.concat(
    a1, b1, a2, b2, a3, b3, spacer(61), spacer(61), c1, d1, c2, d2, c3, d3,
    columns=2, spacing={"row": 40, "column": 142}, bounds="flush",
).resolve_scale(
    color="independent", strokeDash="independent"
).resolve_legend(
    color="independent", strokeDash="independent"
).properties(
    padding={"left": 10, "top": 11, "right": 4, "bottom": 4}, background="white"
).configure_view(stroke=AXC, strokeWidth=1)

chart.save("out.html", embed_options={"renderer": "svg", "actions": False})
